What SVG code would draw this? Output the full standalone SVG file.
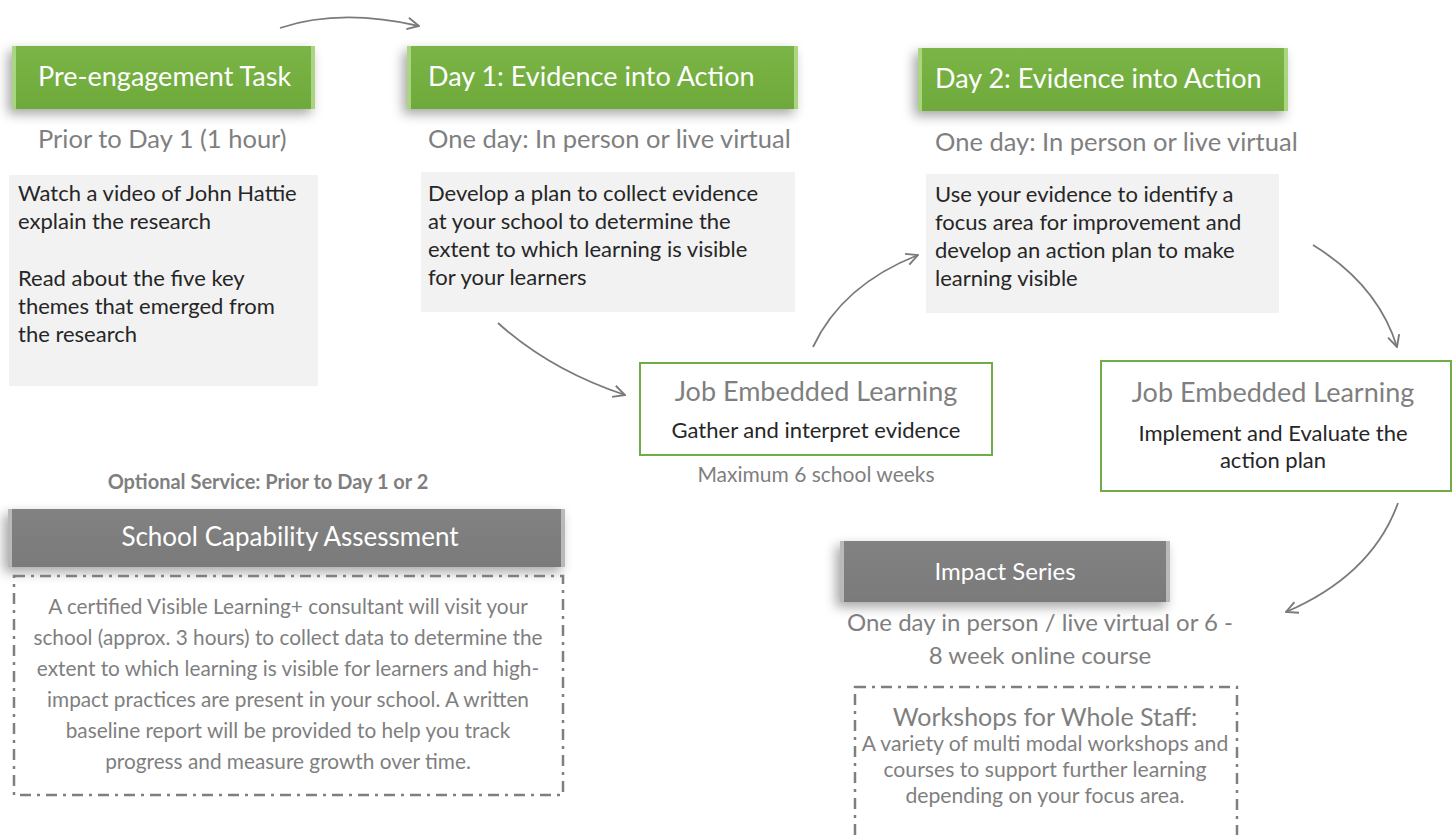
<svg xmlns="http://www.w3.org/2000/svg" width="1453" height="835" viewBox="0 0 1453 835">
<defs>
<filter id="sh" x="-10%" y="-40%" width="120%" height="190%">
<feDropShadow dx="-4" dy="5" stdDeviation="6" flood-color="#000" flood-opacity="0.35"/>
</filter>
<linearGradient id="gGreen" x1="0" y1="0" x2="0" y2="1">
<stop offset="0" stop-color="#7bb547"/><stop offset="1" stop-color="#6ea93b"/>
</linearGradient>
<linearGradient id="gGray" x1="0" y1="0" x2="0" y2="1">
<stop offset="0" stop-color="#828282"/><stop offset="1" stop-color="#7a7a7a"/>
</linearGradient>
<marker id="ah" viewBox="0 0 12 12" refX="11" refY="6" markerWidth="14" markerHeight="14" markerUnits="userSpaceOnUse" orient="auto">
<path d="M1,1 L11,6 L1,11" fill="none" stroke="#7a7a7a" stroke-width="1.6"/>
</marker>
<style>
text{font-family:Lato,"Open Sans","Liberation Sans",sans-serif}
.hd{fill:#fff;font-size:27px}
.sub{fill:#7f7f7f;font-size:25.5px}
.sub2{fill:#7f7f7f;font-size:24px}
.body{fill:#262626;font-size:22px}
.box{fill:#f2f2f2}
.jel{fill:#fff;stroke:#70ad47;stroke-width:2}
.jt{fill:#7f7f7f;font-size:27px}
.js{fill:#262626;font-size:22px}
.dash{fill:none;stroke:#7f7f7f;stroke-width:2.5;stroke-dasharray:11 6 3 6}
.gt{fill:#7f7f7f;font-size:20.8px}
.wt{fill:#7f7f7f;font-size:21.2px}
.bevG{fill:#b4dc8c;opacity:0.85}
.bevK{fill:#c8c8c8;opacity:0.8}
.conn{fill:none;stroke:#7a7a7a;stroke-width:1.8;marker-end:url(#ah)}
</style>
</defs>
<rect width="1453" height="835" fill="#fff"/>

<g id="connectors">
<path class="conn" d="M280 28 Q340 8 419 26"/>
<path class="conn" d="M498 323 Q550 370 625 395"/>
<path class="conn" d="M813 347 Q842 285 918 255"/>
<path class="conn" d="M1313 245 Q1378 285 1397 347"/>
<path class="conn" d="M1398 503 Q1372 575 1286 612"/>
</g>

<g id="pre">
<g filter="url(#sh)"><rect x="12" y="46" width="303" height="63" fill="url(#gGreen)"/></g>
<rect class="bevG" x="12" y="46" width="4" height="63"/><rect class="bevG" x="311" y="46" width="4" height="63"/>
<text class="hd" x="38" y="86">Pre-engagement Task</text>
<text class="sub" x="38" y="148">Prior to Day 1 (1 hour)</text>
<rect class="box" x="9" y="175" width="309" height="211"/>
<text class="body" x="18" y="201">Watch a video of John Hattie</text>
<text class="body" x="18" y="229">explain the research</text>
<text class="body" x="18" y="286">Read about the five key</text>
<text class="body" x="18" y="314">themes that emerged from</text>
<text class="body" x="18" y="342">the research</text>
</g>

<g id="day1">
<g filter="url(#sh)"><rect x="407" y="46" width="391" height="63" fill="url(#gGreen)"/></g>
<rect class="bevG" x="407" y="46" width="4" height="63"/><rect class="bevG" x="794" y="46" width="4" height="63"/>
<text class="hd" x="428" y="86">Day 1: Evidence into Action</text>
<text class="sub" x="428" y="148">One day: In person or live virtual</text>
<rect class="box" x="421" y="172" width="374" height="140"/>
<text class="body" x="428" y="201">Develop a plan to collect evidence</text>
<text class="body" x="428" y="229">at your school to determine the</text>
<text class="body" x="428" y="257">extent to which learning is visible</text>
<text class="body" x="428" y="285">for your learners</text>
</g>

<g id="day2">
<g filter="url(#sh)"><rect x="918" y="48" width="370" height="63" fill="url(#gGreen)"/></g>
<rect class="bevG" x="918" y="48" width="4" height="63"/><rect class="bevG" x="1284" y="48" width="4" height="63"/>
<text class="hd" x="935" y="88">Day 2: Evidence into Action</text>
<text class="sub" x="935" y="151">One day: In person or live virtual</text>
<rect class="box" x="926" y="174" width="353" height="139"/>
<text class="body" x="935" y="202">Use your evidence to identify a</text>
<text class="body" x="935" y="230">focus area for improvement and</text>
<text class="body" x="935" y="258">develop an action plan to make</text>
<text class="body" x="935" y="286">learning visible</text>
</g>

<g id="jel1">
<rect class="jel" x="640" y="363" width="352" height="92"/>
<text class="jt" x="816" y="401" text-anchor="middle">Job Embedded Learning</text>
<text class="js" x="816" y="438" text-anchor="middle">Gather and interpret evidence</text>
<text x="816" y="482" text-anchor="middle" fill="#7f7f7f" font-size="21">Maximum 6 school weeks</text>
</g>

<g id="jel2">
<rect class="jel" x="1101" y="361" width="350" height="130"/>
<text class="jt" x="1273" y="402" text-anchor="middle">Job Embedded Learning</text>
<text class="js" x="1273" y="441" text-anchor="middle">Implement and Evaluate the</text>
<text class="js" x="1273" y="468" text-anchor="middle">action plan</text>
</g>

<g id="capability">
<text x="268" y="489" text-anchor="middle" fill="#7f7f7f" font-size="20" font-weight="bold">Optional Service: Prior to Day 1 or 2</text>
<g filter="url(#sh)"><rect x="8" y="509" width="557" height="58" fill="url(#gGray)"/></g>
<rect class="bevK" x="8" y="509" width="4" height="58"/><rect class="bevK" x="561" y="509" width="4" height="58"/>
<text x="290" y="546" text-anchor="middle" fill="#fff" font-size="26">School Capability Assessment</text>
<rect class="dash" x="14" y="576" width="549" height="219"/>
<text class="gt" x="288" y="614" text-anchor="middle">A certified Visible Learning+ consultant will visit your</text>
<text class="gt" x="288" y="645" text-anchor="middle">school (approx. 3 hours) to collect data to determine the</text>
<text class="gt" x="288" y="676" text-anchor="middle">extent to which learning is visible for learners and high-</text>
<text class="gt" x="288" y="707" text-anchor="middle">impact practices are present in your school. A written</text>
<text class="gt" x="288" y="738" text-anchor="middle">baseline report will be provided to help you track</text>
<text class="gt" x="288" y="769" text-anchor="middle">progress and measure growth over time.</text>
</g>

<g id="impact">
<g filter="url(#sh)"><rect x="840" y="541" width="330" height="61" fill="url(#gGray)"/></g>
<rect class="bevK" x="840" y="541" width="4" height="61"/><rect class="bevK" x="1166" y="541" width="4" height="61"/>
<text x="1005" y="580" text-anchor="middle" fill="#fff" font-size="24">Impact Series</text>
<text class="sub2" x="1040" y="631" text-anchor="middle">One day in person / live virtual or 6 -</text>
<text class="sub2" x="1040" y="664" text-anchor="middle">8 week online course</text>
<rect class="dash" x="855" y="687" width="382" height="160"/>
<text x="1045" y="726" text-anchor="middle" fill="#7f7f7f" font-size="25">Workshops for Whole Staff:</text>
<text class="wt" x="1045" y="751" text-anchor="middle">A variety of multi modal workshops and</text>
<text class="wt" x="1045" y="777" text-anchor="middle">courses to support further learning</text>
<text class="wt" x="1045" y="803" text-anchor="middle">depending on your focus area.</text>
</g>
</svg>
